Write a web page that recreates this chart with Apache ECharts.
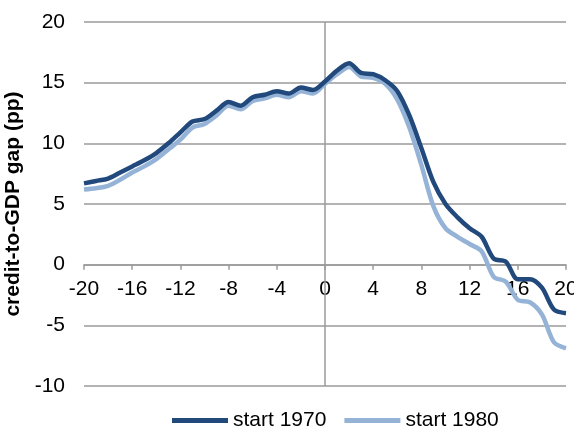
<!DOCTYPE html>
<html>
<head>
<meta charset="utf-8">
<script src="https://cdn.jsdelivr.net/npm/echarts@6/dist/echarts.min.js"></script>
<style>
html,body{margin:0;padding:0;background:#fff;}
#chart{width:574px;height:430px;}
</style>
</head>
<body>
<div id="chart"></div>
<script>
const quarters = [-20,-19,-18,-17,-16,-15,-14,-13,-12,-11,-10,-9,-8,-7,-6,-5,-4,-3,-2,-1,0,1,2,3,4,5,6,7,8,9,10,11,12,13,14,15,16,17,18,19,20];
const start1970 = [6.7,6.9,7.1,7.6,8.1,8.6,9.2,10.0,10.9,11.8,12.0,12.7,13.4,13.1,13.8,14.0,14.3,14.1,14.6,14.4,15.1,16.0,16.6,15.8,15.7,15.2,14.3,12.3,9.6,6.8,5.0,3.9,3.0,2.3,0.5,0.25,-1.2,-1.2,-1.9,-3.7,-4.0];
const start1980 = [6.2,6.3,6.5,7.0,7.6,8.1,8.7,9.5,10.3,11.3,11.6,12.3,13.1,12.8,13.5,13.7,14.0,13.8,14.3,14.1,14.9,15.7,16.3,15.5,15.4,14.9,13.6,11.3,8.2,4.8,3.0,2.3,1.7,1.1,-1.0,-1.4,-2.9,-3.1,-4.1,-6.4,-6.9];
const xTicks = [-20,-16,-12,-8,-4,0,4,8,12,16,20];
const yTicks = [-10,-5,0,5,10,15,20];
const seriesNames = ['start 1970','start 1980'];

const pair = (xs, ys) => xs.map((x, i) => [x, ys[i]]);
const font = 'Liberation Sans, Arial, sans-serif';
const gridTop = 22, gridBottom = 44, H = 430;
const yMin = -10, yMax = 20;
const gridH = H - gridTop - gridBottom;
// offset that moves the bottom x axis up to the value 0 line
const zeroOffset = -(0 - yMin) / (yMax - yMin) * gridH;

const chart = echarts.init(document.getElementById('chart'));
chart.setOption({
  animation: false,
  backgroundColor: '#ffffff',
  grid: {left: 84, right: 8, top: gridTop, bottom: gridBottom, containLabel: false, outerBoundsMode: 'none'},
  legend: {
    data: seriesNames,
    left: 172, top: 410, padding: 0,
    icon: 'rect', itemWidth: 56, itemHeight: 5, itemGap: 18,
    textStyle: {fontFamily: font, fontSize: 21, color: '#000'}
  },
  xAxis: {
    type: 'value', min: -20, max: 20, interval: 4, position: 'bottom', offset: zeroOffset,
    axisLine: {onZero: false, lineStyle: {color: '#9a9a9a', width: 1.5}},
    axisTick: {show: true, length: 5, lineStyle: {color: '#9a9a9a', width: 1.5}},
    axisLabel: {margin: 14, fontFamily: font, fontSize: 21, color: '#000', showMaxLabel: true, hideOverlap: false,
      formatter: v => xTicks.includes(v) ? String(v) : ''},
    splitLine: {show: false}
  },
  yAxis: {
    type: 'value', min: yMin, max: yMax, interval: 5,
    name: 'credit-to-GDP gap (pp)', nameLocation: 'middle', nameRotate: 90, nameGap: 52,
    nameTextStyle: {fontFamily: font, fontSize: 21, fontWeight: 'bold', color: '#000'},
    axisLine: {show: false, onZero: false},
    axisTick: {show: false},
    axisLabel: {margin: 19, fontFamily: font, fontSize: 21, color: '#000',
      formatter: v => yTicks.includes(v) ? String(v) : ''},
    splitLine: {show: true, lineStyle: {color: '#9a9a9a', width: 1.5}}
  },
  series: [
    {
      name: seriesNames[0], type: 'line', data: pair(quarters, start1970),
      smooth: 0.3, showSymbol: false, symbol: 'none', z: 4,
      itemStyle: {color: '#22497c'},
      lineStyle: {color: '#22497c', width: 4.5}
    },
    {
      name: seriesNames[1], type: 'line', data: pair(quarters, start1980),
      smooth: 0.3, showSymbol: false, symbol: 'none', z: 3,
      itemStyle: {color: '#95b3d7'},
      lineStyle: {color: '#95b3d7', width: 4.5},
      markLine: {
        silent: true, symbol: ['none','none'], label: {show: false}, z: 1,
        lineStyle: {color: '#9a9a9a', width: 1.5, type: 'solid'},
        data: [{xAxis: 0}]
      }
    }
  ]
});
</script>
</body>
</html>
